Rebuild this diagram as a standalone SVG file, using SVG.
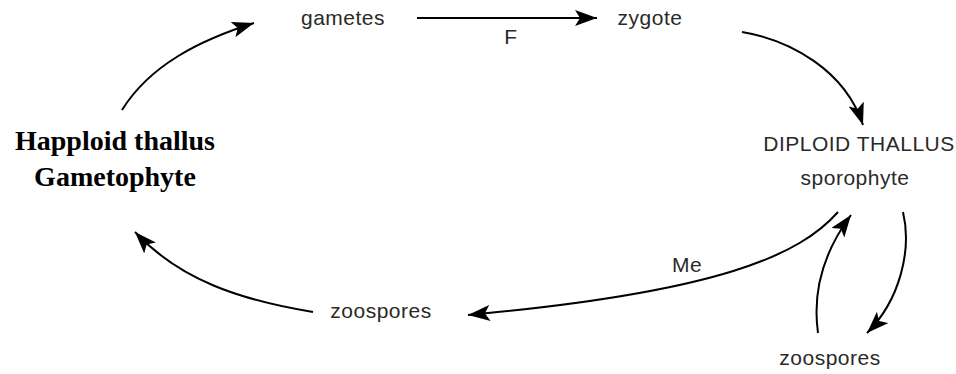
<svg xmlns="http://www.w3.org/2000/svg" width="956" height="374" viewBox="0 0 956 374">
  <style>
    .lbl { font-family: "Liberation Sans", Arial, sans-serif; font-size: 21px; letter-spacing: 0.5px; fill: #2a2a2a; text-anchor: middle; }
    .big { font-family: "Liberation Serif", "Times New Roman", serif; font-size: 28px; font-weight: bold; fill: #000; text-anchor: middle; }
    .arc { fill: none; stroke: #000; stroke-width: 2; marker-end: url(#ah); }
  </style>
  <defs>
    <marker id="ah" markerUnits="userSpaceOnUse" markerWidth="26" markerHeight="18" refX="22" refY="8" orient="auto">
      <path d="M0,0 L22,8 L0,16 L5,8 Z" fill="#000"/>
    </marker>
  </defs>
  <rect width="956" height="374" fill="#fff"/>

  <g id="connectors">
    <path class="arc" d="M122,110 C150,65 200,40 254,23"/>
    <path class="arc" d="M417,18 L597,18"/>
    <path class="arc" d="M742,32 C790,40 845,70 863,125"/>
    <path class="arc" d="M838,212 C800,255 720,292 468,315"/>
    <path class="arc" d="M313,312 C240,300 180,280 135,232"/>
    <path class="arc" d="M818,333 C812,290 825,250 851,215"/>
    <path class="arc" d="M903,212 C912,250 900,300 867,333"/>
    <text class="lbl" x="511" y="44" font-size="18">F</text>
    <text class="lbl" x="687" y="272">Me</text>
  </g>

  <g id="haploid">
    <text class="big" x="115" y="150">Happloid thallus</text>
    <text class="big" x="115" y="186">Gametophyte</text>
  </g>
  <g id="gametes">
    <text class="lbl" x="343" y="25">gametes</text>
  </g>
  <g id="zygote">
    <text class="lbl" x="650" y="25">zygote</text>
  </g>
  <g id="diploid">
    <text class="lbl" x="859" y="151">DIPLOID THALLUS</text>
    <text class="lbl" x="855" y="185">sporophyte</text>
  </g>
  <g id="zoospores1">
    <text class="lbl" x="381" y="318">zoospores</text>
  </g>
  <g id="zoospores2">
    <text class="lbl" x="830" y="365">zoospores</text>
  </g>
</svg>
